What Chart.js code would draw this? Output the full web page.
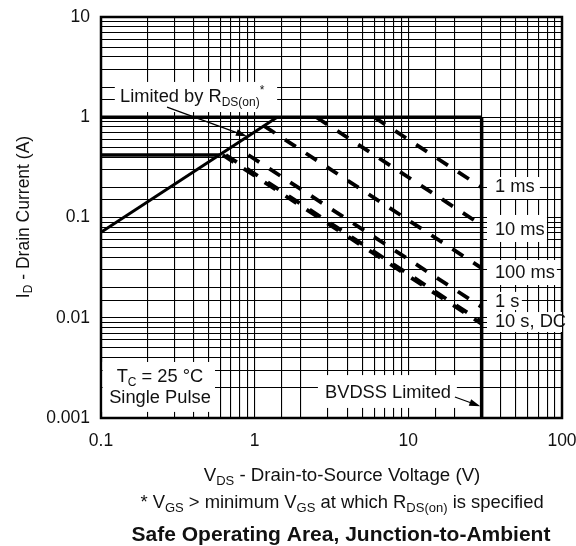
<!DOCTYPE html>
<html>
<head>
<meta charset="utf-8">
<script src="https://cdn.jsdelivr.net/npm/chart.js@4/dist/chart.umd.min.js"></script>
<style>
  html, body { margin: 0; padding: 0; background: #fff; }
  #wrap { width: 576px; height: 546px; }
</style>
</head>
<body>
<div id="wrap"><canvas id="soa"></canvas></div>
<script>
// limit lines (V, A)
var rdsV = [0.1, 1.4];
var rdsI = [0.0714, 1];
var idmV = [0.1, 30];
var idmI = [1, 1];
var idV = [0.1, 0.59];
var idI = [0.42, 0.42];
var bvV = [30, 30];
var bvI = [1, 0.001];

// pulse lines
var pulseNames = ['1 ms', '10 ms', '100 ms', '1 s', '10 s', 'DC'];
var pulseV = [[6, 30], [2.52, 30], [1.15, 30], [0.91, 30], [0.65, 30], [0.62, 30]];
var pulseI = [[1, 0.2], [1, 0.084], [0.82, 0.0313], [0.42, 0.0128], [0.42, 0.0091], [0.42, 0.0087]];

var xTicks = [0.1, 1, 10, 100];
var xTickLabels = ['0.1', '1', '10', '100'];
var yTicks = [0.001, 0.01, 0.1, 1, 10];
var yTickLabels = ['0.001', '0.01', '0.1', '1', '10'];

var FONT = '"Liberation Sans", Arial, Helvetica, sans-serif';
var INK = '#111';

function pts(vs, is) {
  return vs.map(function (v, i) { return { x: v, y: is[i] }; });
}

function tickLabel(list, labels) {
  return function (v) {
    for (var i = 0; i < list.length; i++) {
      if (Math.abs(v / list[i] - 1) < 1e-6) return labels[i];
    }
    return '';
  };
}

var datasets = [
  { label: 'RDS(on) limit', data: pts(rdsV, rdsI), borderWidth: 3 },
  { label: 'IDM limit', data: pts(idmV, idmI), borderWidth: 3.5 },
  { label: 'ID limit', data: pts(idV, idI), borderWidth: 3.5 },
  { label: 'BVDSS limit', data: pts(bvV, bvI), borderWidth: 3.5 }
];
pulseNames.forEach(function (n, k) {
  datasets.push({ label: n, data: pts(pulseV[k], pulseI[k]), borderWidth: 3.8, borderDash: [13, 12] });
});
datasets.forEach(function (d) {
  d.showLine = true;
  d.borderColor = '#000';
  d.pointRadius = 0;
  d.fill = false;
});

// text inside the plot: [x1, y1, x2, y2] white box in data units, then lines of text
var notes = [
  { box: [0.123, 2.25, 1.4, 1.127], lines: [{ x: 0.133, y: 1.59, align: 'left',
      parts: [['Limited by R', ''], ['DS(on)', 'sub'], ['*', 'sup']] }] },
  { box: [0.1025, 0.00362, 0.552, 0.00115], lines: [
      { x: 0.242, y: 0.00257, align: 'center', parts: [['T', ''], ['C', 'sub'], [' = 25 \u00b0C', '']] },
      { x: 0.242, y: 0.00158, align: 'center', parts: [['Single Pulse', '']] }] },
  { box: [2.58, 0.00268, 20.7, 0.00126], lines: [{ x: 2.87, y: 0.00178, align: 'left', parts: [['BVDSS Limited', '']] }] },
  { box: [32.5, 0.2535, 71.8, 0.153], lines: [{ x: 36.6, y: 0.2, align: 'left', parts: [['1 ms', '']] }] },
  { box: [32.5, 0.106, 79.8, 0.057], lines: [{ x: 36.6, y: 0.075, align: 'left', parts: [['10 ms', '']] }] },
  { box: [32.5, 0.0377, 92.6, 0.0212], lines: [{ x: 36.6, y: 0.0279, align: 'left', parts: [['100 ms', '']] }] },
  { box: [32.5, 0.0181, 54.8, 0.01194], lines: [{ x: 36.6, y: 0.01437, align: 'left', parts: [['1 s', '']] }] },
  { box: [32.5, 0.0114, 100, 0.00721], lines: [{ x: 36.6, y: 0.00907, align: 'left', parts: [['10 s, DC', '']] }] }
];
var arrows = [
  [0.269, 1.265, 0.89, 0.645],
  [20.1, 0.00162, 29.4, 0.00131]
];

function drawRich(ctx, parts, x, y, align, size, bold) {
  size = size || 18.3;
  var small = Math.round(size * 0.68);
  var widths = [], total = 0;
  function font(p) { return (bold ? 'bold ' : '') + (p[1] ? small : size) + 'px ' + FONT; }
  parts.forEach(function (p) {
    ctx.font = font(p);
    var w = ctx.measureText(p[0]).width;
    widths.push(w);
    total += w;
  });
  var cx = align === 'center' ? x - total / 2 : x;
  ctx.textAlign = 'left';
  ctx.textBaseline = 'middle';
  ctx.fillStyle = INK;
  parts.forEach(function (p, i) {
    ctx.font = font(p);
    var dy = p[1] === 'sub' ? size * 0.29 : (p[1] === 'sup' ? -size * 0.34 : 0);
    ctx.fillText(p[0], cx, y + dy);
    cx += widths[i];
  });
}

function drawArrow(ctx, x1, y1, x2, y2) {
  var a = Math.atan2(y2 - y1, x2 - x1);
  ctx.strokeStyle = '#000';
  ctx.fillStyle = '#000';
  ctx.lineWidth = 1.3;
  ctx.beginPath();
  ctx.moveTo(x1, y1);
  ctx.lineTo(x2 - 8 * Math.cos(a), y2 - 8 * Math.sin(a));
  ctx.stroke();
  ctx.beginPath();
  ctx.moveTo(x2, y2);
  ctx.lineTo(x2 - 11 * Math.cos(a) + 3.5 * Math.sin(a), y2 - 11 * Math.sin(a) - 3.5 * Math.cos(a));
  ctx.lineTo(x2 - 11 * Math.cos(a) - 3.5 * Math.sin(a), y2 - 11 * Math.sin(a) + 3.5 * Math.cos(a));
  ctx.closePath();
  ctx.fill();
}

var sheetPlugin = {
  id: 'sheet',
  beforeDatasetsDraw: function (chart) {
    var ctx = chart.ctx, sx = chart.scales.x, sy = chart.scales.y, a = chart.chartArea;
    ctx.save();
    ctx.strokeStyle = '#000';
    ctx.lineWidth = 2.5;
    ctx.strokeRect(a.left, a.top, a.right - a.left, a.bottom - a.top);
    notes.forEach(function (n) {
      var x1 = sx.getPixelForValue(n.box[0]), y1 = sy.getPixelForValue(n.box[1]);
      var x2 = sx.getPixelForValue(n.box[2]), y2 = sy.getPixelForValue(n.box[3]);
      ctx.fillStyle = '#fff';
      ctx.fillRect(x1, y1, x2 - x1, y2 - y1);
      n.lines.forEach(function (l) {
        drawRich(ctx, l.parts, sx.getPixelForValue(l.x), sy.getPixelForValue(l.y), l.align);
      });
    });
    arrows.forEach(function (r) {
      drawArrow(ctx, sx.getPixelForValue(r[0]), sy.getPixelForValue(r[1]),
        sx.getPixelForValue(r[2]), sy.getPixelForValue(r[3]));
    });
    ctx.restore();
  },
  afterDraw: function (chart) {
    var ctx = chart.ctx;
    ctx.save();
    drawRich(ctx, [['V', ''], ['DS', 'sub'], [' - Drain-to-Source Voltage (V)', '']], 342, 476, 'center', 18.7);
    drawRich(ctx, [['* V', ''], ['GS', 'sub'], [' > minimum V', ''], ['GS', 'sub'], [' at which R', ''],
      ['DS(on)', 'sub'], [' is specified', '']], 342, 503, 'center', 18.4);
    drawRich(ctx, [['Safe Operating Area, Junction-to-Ambient', '']], 341, 535, 'center', 21, true);
    ctx.translate(24, 217);
    ctx.rotate(-Math.PI / 2);
    drawRich(ctx, [['I', ''], ['D', 'sub'], [' - Drain Current (A)', '']], 0, 0, 'center', 17.5);
    ctx.restore();
  }
};

var tickFont = { family: FONT, size: 17.5 };

new Chart(document.getElementById('soa'), {
  type: 'scatter',
  data: { datasets: datasets },
  options: {
    responsive: true,
    maintainAspectRatio: false,
    animation: false,
    layout: { padding: { top: 17, right: 14, left: 0, bottom: 0 } },
    plugins: { legend: { display: false }, tooltip: { enabled: false } },
    scales: {
      x: {
        type: 'logarithmic', min: 0.1, max: 100,
        grid: { color: '#000', lineWidth: 1.1, drawTicks: false },
        border: { display: false },
        ticks: { autoSkip: false, maxRotation: 0, padding: 13, color: INK, font: tickFont,
                 callback: tickLabel(xTicks, xTickLabels) },
        afterFit: function (s) { s.height = 128; s.paddingLeft = 0; s.paddingRight = 0; }
      },
      y: {
        type: 'logarithmic', min: 0.001, max: 10,
        grid: { color: '#000', lineWidth: 1.1, drawTicks: false },
        border: { display: false },
        ticks: { autoSkip: false, padding: 11, color: INK, font: tickFont,
                 callback: tickLabel(yTicks, yTickLabels) },
        afterFit: function (s) { s.width = 101; s.paddingTop = 0; s.paddingBottom = 0; }
      }
    }
  },
  plugins: [sheetPlugin]
});
</script>
</body>
</html>
